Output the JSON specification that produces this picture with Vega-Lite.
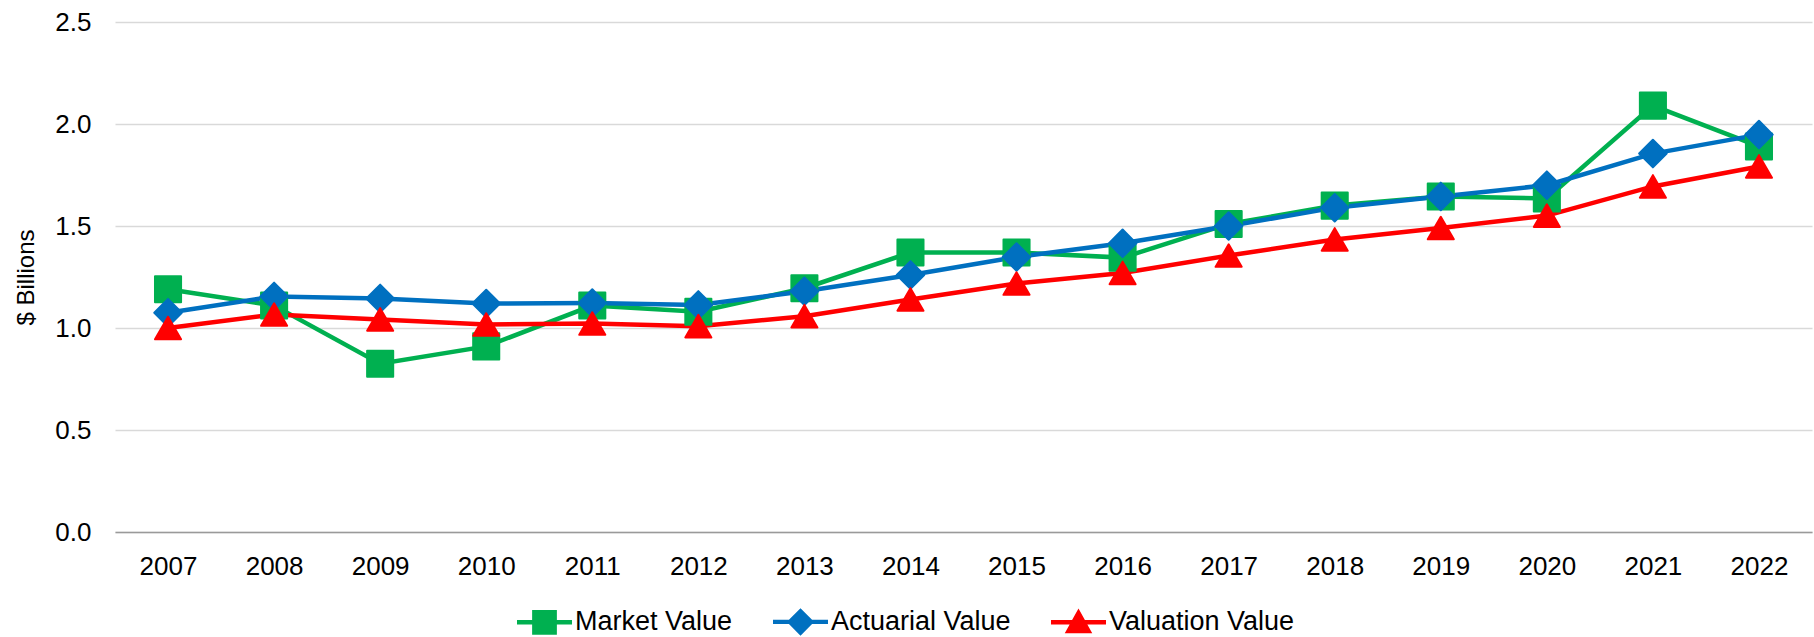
{
  "$schema": "https://vega.github.io/schema/vega-lite/v6.json",
  "width": 1697,
  "height": 510,
  "autosize": {"type": "none"},
  "padding": {"left": 115, "top": 22, "right": 2, "bottom": 105},
  "background": "white",
  "config": {
    "font": "Liberation Sans",
    "view": {"stroke": null}
  },
  "data": {
    "values": [
      {"year": "2007", "series": "Market Value", "value": 1.19},
      {"year": "2008", "series": "Market Value", "value": 1.11},
      {"year": "2009", "series": "Market Value", "value": 0.825},
      {"year": "2010", "series": "Market Value", "value": 0.91},
      {"year": "2011", "series": "Market Value", "value": 1.11},
      {"year": "2012", "series": "Market Value", "value": 1.08},
      {"year": "2013", "series": "Market Value", "value": 1.195},
      {"year": "2014", "series": "Market Value", "value": 1.37},
      {"year": "2015", "series": "Market Value", "value": 1.37},
      {"year": "2016", "series": "Market Value", "value": 1.345},
      {"year": "2017", "series": "Market Value", "value": 1.51},
      {"year": "2018", "series": "Market Value", "value": 1.6},
      {"year": "2019", "series": "Market Value", "value": 1.645},
      {"year": "2020", "series": "Market Value", "value": 1.635},
      {"year": "2021", "series": "Market Value", "value": 2.09},
      {"year": "2022", "series": "Market Value", "value": 1.89},
      {"year": "2007", "series": "Actuarial Value", "value": 1.075},
      {"year": "2008", "series": "Actuarial Value", "value": 1.155},
      {"year": "2009", "series": "Actuarial Value", "value": 1.145},
      {"year": "2010", "series": "Actuarial Value", "value": 1.12},
      {"year": "2011", "series": "Actuarial Value", "value": 1.122},
      {"year": "2012", "series": "Actuarial Value", "value": 1.113},
      {"year": "2013", "series": "Actuarial Value", "value": 1.18},
      {"year": "2014", "series": "Actuarial Value", "value": 1.26},
      {"year": "2015", "series": "Actuarial Value", "value": 1.348},
      {"year": "2016", "series": "Actuarial Value", "value": 1.415},
      {"year": "2017", "series": "Actuarial Value", "value": 1.5},
      {"year": "2018", "series": "Actuarial Value", "value": 1.59},
      {"year": "2019", "series": "Actuarial Value", "value": 1.645},
      {"year": "2020", "series": "Actuarial Value", "value": 1.7},
      {"year": "2021", "series": "Actuarial Value", "value": 1.855},
      {"year": "2022", "series": "Actuarial Value", "value": 1.948},
      {"year": "2007", "series": "Valuation Value", "value": 1.0},
      {"year": "2008", "series": "Valuation Value", "value": 1.066},
      {"year": "2009", "series": "Valuation Value", "value": 1.042},
      {"year": "2010", "series": "Valuation Value", "value": 1.017},
      {"year": "2011", "series": "Valuation Value", "value": 1.022},
      {"year": "2012", "series": "Valuation Value", "value": 1.009},
      {"year": "2013", "series": "Valuation Value", "value": 1.058},
      {"year": "2014", "series": "Valuation Value", "value": 1.14},
      {"year": "2015", "series": "Valuation Value", "value": 1.218},
      {"year": "2016", "series": "Valuation Value", "value": 1.27},
      {"year": "2017", "series": "Valuation Value", "value": 1.355},
      {"year": "2018", "series": "Valuation Value", "value": 1.434},
      {"year": "2019", "series": "Valuation Value", "value": 1.49},
      {"year": "2020", "series": "Valuation Value", "value": 1.551},
      {"year": "2021", "series": "Valuation Value", "value": 1.694},
      {"year": "2022", "series": "Valuation Value", "value": 1.792}
    ]
  },
  "encoding": {
    "x": {
      "field": "year",
      "type": "ordinal",
      "scale": {"type": "point", "padding": 0.5},
      "axis": {
        "title": null,
        "labelAngle": 0,
        "labelFontSize": 26,
        "labelColor": "#000000",
        "labelPadding": 21,
        "ticks": false,
        "grid": false,
        "domainColor": "#9A9A9A",
        "domainWidth": 1.5
      }
    },
    "y": {
      "field": "value",
      "type": "quantitative",
      "scale": {"domain": [0, 2.5], "nice": false},
      "axis": {
        "title": "$ Billions",
        "titleFontSize": 24,
        "titleFontWeight": "normal",
        "titleColor": "#000000",
        "titlePadding": 16,
        "values": [0, 0.5, 1, 1.5, 2, 2.5],
        "format": ".1f",
        "labelFontSize": 26,
        "labelColor": "#000000",
        "labelPadding": 24,
        "ticks": false,
        "domain": false,
        "grid": true,
        "gridColor": "#D9D9D9",
        "gridWidth": 1.5
      }
    }
  },
  "layer": [
    {
      "mark": {"type": "line", "strokeWidth": 4.5},
      "encoding": {
        "color": {
          "field": "series",
          "type": "nominal",
          "scale": {
            "domain": ["Market Value", "Actuarial Value", "Valuation Value"],
            "range": ["#00B050", "#0070C0", "#FF0000"]
          },
          "legend": {
            "title": null,
            "orient": "none",
            "legendX": 402,
            "legendY": 572,
            "direction": "horizontal",
            "labelFontSize": 27,
            "labelColor": "#000000",
            "labelLimit": 0,
            "symbolSize": 3025,
            "symbolStrokeWidth": 0,
            "symbolOpacity": 1,
            "labelOffset": 3,
            "columnPadding": 40
          }
        }
      }
    },
    {
      "transform": [{"filter": "datum.series === 'Market Value'"}],
      "mark": {"type": "point", "shape": "square", "filled": true, "opacity": 1, "size": 680, "color": "#00B050", "stroke": "#00B050", "strokeWidth": 2, "strokeJoin": "round"}
    },
    {
      "transform": [{"filter": "datum.series === 'Actuarial Value'"}],
      "mark": {"type": "point", "shape": "diamond", "filled": true, "opacity": 1, "size": 760, "color": "#0070C0", "stroke": "#0070C0", "strokeWidth": 2, "strokeJoin": "round"}
    },
    {
      "transform": [{"filter": "datum.series === 'Valuation Value'"}],
      "mark": {"type": "point", "shape": "triangle-up", "filled": true, "opacity": 1, "size": 680, "color": "#FF0000", "stroke": "#FF0000", "strokeWidth": 2, "strokeJoin": "round"}
    },
    {
      "transform": [{"filter": "false"}],
      "mark": {"type": "point", "filled": true, "opacity": 1},
      "encoding": {
        "color": {
          "field": "series",
          "type": "nominal",
          "scale": {
            "domain": ["Market Value", "Actuarial Value", "Valuation Value"],
            "range": ["#00B050", "#0070C0", "#FF0000"]
          }
        },
        "shape": {
          "field": "series",
          "type": "nominal",
          "scale": {
            "domain": ["Market Value", "Actuarial Value", "Valuation Value"],
            "range": [
              "M-1,-0.08H-0.45V-0.45H0.45V-0.08H1V0.08H0.45V0.45H-0.45V0.08H-1Z",
              "M-1,-0.08H-0.42L0,-0.5L0.42,-0.08H1V0.08H0.42L0,0.5L-0.42,0.08H-1Z",
              "M-1,-0.08H-0.233L0,-0.5L0.233,-0.08H1V0.08H0.322L0.5,0.4H-0.5L-0.322,0.08H-1Z"
            ]
          },
          "legend": {
            "title": null,
            "orient": "none",
            "legendX": 402,
            "legendY": 572,
            "direction": "horizontal",
            "labelFontSize": 27,
            "labelColor": "#000000",
            "labelLimit": 0,
            "symbolSize": 3025,
            "symbolStrokeWidth": 0,
            "symbolOpacity": 1,
            "labelOffset": 3,
            "columnPadding": 40
          }
        }
      }
    }
  ]
}
